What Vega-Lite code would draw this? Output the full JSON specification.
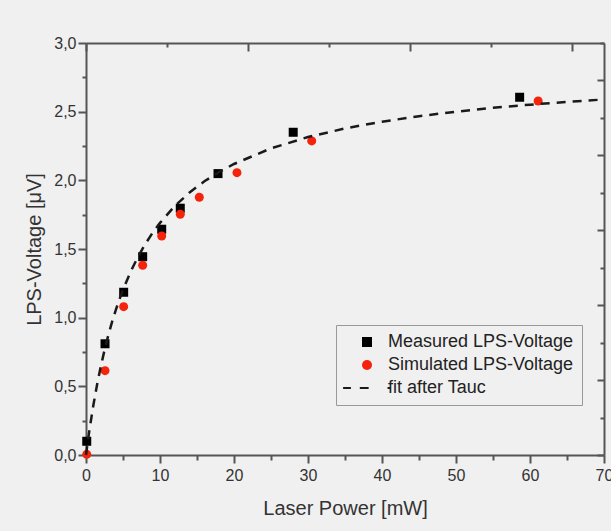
{
  "$schema": "https://vega.github.io/schema/vega-lite/v6.json",
  "width": 518,
  "height": 412,
  "autosize": {"type": "none"},
  "padding": {"left": 86, "top": 43, "right": 7, "bottom": 76},
  "background": "#f0f0f0",
  "config": {
    "view": {"stroke": null},
    "font": "Liberation Sans",
    "axis": {
      "grid": false,
      "domainColor": "#555555",
      "domainWidth": 2,
      "tickColor": "#555555",
      "tickWidth": 2,
      "labelFont": "Liberation Sans",
      "labelFontSize": 16,
      "labelColor": "#333333",
      "titleFont": "Liberation Sans",
      "titleFontSize": 20,
      "titleFontWeight": "normal",
      "titleColor": "#333333"
    }
  },
  "datasets": {
    "pts": [
      {"P": 0.1, "V": 0.10, "series": "Measured LPS-Voltage"},
      {"P": 2.57, "V": 0.81, "series": "Measured LPS-Voltage"},
      {"P": 5.09, "V": 1.185, "series": "Measured LPS-Voltage"},
      {"P": 7.66, "V": 1.444, "series": "Measured LPS-Voltage"},
      {"P": 10.23, "V": 1.644, "series": "Measured LPS-Voltage"},
      {"P": 12.74, "V": 1.797, "series": "Measured LPS-Voltage"},
      {"P": 17.84, "V": 2.049, "series": "Measured LPS-Voltage"},
      {"P": 28.0, "V": 2.35, "series": "Measured LPS-Voltage"},
      {"P": 58.6, "V": 2.605, "series": "Measured LPS-Voltage"},
      {"P": 0.1, "V": 0.005, "series": "Simulated LPS-Voltage"},
      {"P": 2.57, "V": 0.614, "series": "Simulated LPS-Voltage"},
      {"P": 5.09, "V": 1.08, "series": "Simulated LPS-Voltage"},
      {"P": 7.66, "V": 1.382, "series": "Simulated LPS-Voltage"},
      {"P": 10.23, "V": 1.595, "series": "Simulated LPS-Voltage"},
      {"P": 12.74, "V": 1.753, "series": "Simulated LPS-Voltage"},
      {"P": 15.31, "V": 1.877, "series": "Simulated LPS-Voltage"},
      {"P": 20.4, "V": 2.056, "series": "Simulated LPS-Voltage"},
      {"P": 30.5, "V": 2.287, "series": "Simulated LPS-Voltage"},
      {"P": 61.1, "V": 2.578, "series": "Simulated LPS-Voltage"}
    ],
    "fit": [
      {"P": 0, "V": 0},
      {"P": 0.25, "V": 0.101},
      {"P": 0.5, "V": 0.195},
      {"P": 1, "V": 0.364},
      {"P": 1.5, "V": 0.513},
      {"P": 2, "V": 0.645},
      {"P": 2.5, "V": 0.763},
      {"P": 3, "V": 0.869},
      {"P": 3.5, "V": 0.965},
      {"P": 4, "V": 1.052},
      {"P": 4.5, "V": 1.131},
      {"P": 5, "V": 1.203},
      {"P": 6, "V": 1.331},
      {"P": 7, "V": 1.441},
      {"P": 8, "V": 1.535},
      {"P": 9, "V": 1.618},
      {"P": 10, "V": 1.690},
      {"P": 12, "V": 1.813},
      {"P": 14, "V": 1.912},
      {"P": 16, "V": 1.993},
      {"P": 18, "V": 2.061},
      {"P": 20, "V": 2.119},
      {"P": 25, "V": 2.233},
      {"P": 30, "V": 2.315},
      {"P": 35, "V": 2.378},
      {"P": 40, "V": 2.427},
      {"P": 45, "V": 2.467},
      {"P": 50, "V": 2.500},
      {"P": 55, "V": 2.528},
      {"P": 60, "V": 2.551},
      {"P": 65, "V": 2.571},
      {"P": 70, "V": 2.589}
    ],
    "frame": [
      {"P2": 0, "V2": 0}
    ]
  },
  "resolve": {
    "scale": {"x": "independent", "y": "independent"},
    "axis": {"x": "independent", "y": "independent"}
  },
  "layer": [
    {
      "data": {"name": "pts"},
      "mark": {"type": "point", "filled": true, "opacity": 1, "strokeWidth": 0, "size": 81},
      "encoding": {
        "x": {
          "field": "P", "type": "quantitative",
          "scale": {"domain": [0, 70], "nice": false, "zero": false},
          "axis": {
            "orient": "bottom",
            "title": "Laser Power [mW]",
            "values": [0, 5, 10, 15, 20, 25, 30, 35, 40, 45, 50, 55, 60, 65, 70],
            "labelExpr": "datum.value % 10 === 0 ? datum.label : ''",
            "tickSize": {"condition": {"test": "datum.value % 10 === 0", "value": 8}, "value": 5},
            "labelPadding": 4,
            "titlePadding": 15,
            "labelFlush": false,
            "labelOverlap": false
          }
        },
        "y": {
          "field": "V", "type": "quantitative",
          "scale": {"domain": [0, 3], "nice": false, "zero": false},
          "axis": {
            "orient": "left",
            "title": "LPS-Voltage [μV]",
            "values": [0, 0.25, 0.5, 0.75, 1, 1.25, 1.5, 1.75, 2, 2.25, 2.5, 2.75, 3],
            "labelExpr": "datum.value % 0.5 === 0 ? replace(format(datum.value, '.1f'), '.', ',') : ''",
            "tickSize": {"condition": {"test": "datum.value % 0.5 === 0", "value": 8}, "value": 4},
            "labelPadding": 2,
            "titlePadding": 9,
            "labelFlush": false,
            "labelOverlap": false
          }
        },
        "color": {
          "field": "series", "type": "nominal",
          "scale": {
            "domain": ["Measured LPS-Voltage", "Simulated LPS-Voltage", "fit after Tauc"],
            "range": ["#000000", "#f5220c", "#1a1a1a"]
          },
          "legend": {
            "title": null,
            "orient": "none",
            "legendX": 250,
            "legendY": 282,
            "padding": 8,
            "rowPadding": 5,
            "labelFont": "Liberation Sans",
            "labelFontSize": 18,
            "labelColor": "#222222",
            "labelLimit": 0,
            "symbolOffset": 14,
            "labelOffset": 12,
            "strokeColor": "#999999",
            "fillColor": "#f0f0f0",
            "symbolOpacity": 1,
            "symbolStrokeWidth": 0
          }
        },
        "shape": {
          "field": "series", "type": "nominal",
          "scale": {
            "domain": ["Measured LPS-Voltage", "Simulated LPS-Voltage", "fit after Tauc"],
            "range": ["square", "circle", "M-4.78,-0.22H-3.22V0.22H-4.78Z M-1.44,-0.22H0.33V0.22H-1.44Z M4.11,-0.22H4.78V0.22H4.11Z"]
          }
        }
      }
    },
    {
      "data": {"name": "fit"},
      "mark": {"type": "line", "color": "#1a1a1a", "strokeWidth": 2.5, "strokeDash": [9, 7]},
      "encoding": {
        "x": {"field": "P", "type": "quantitative", "scale": {"domain": [0, 70], "nice": false, "zero": false}, "axis": null},
        "y": {"field": "V", "type": "quantitative", "scale": {"domain": [0, 3], "nice": false, "zero": false}, "axis": null}
      }
    },
    {
      "data": {"name": "frame"},
      "mark": {"type": "point", "opacity": 0},
      "encoding": {
        "x": {
          "field": "P2", "type": "quantitative",
          "scale": {"domain": [0, 64], "nice": false, "zero": false},
          "axis": {
            "orient": "top",
            "title": null,
            "labels": false,
            "values": [0, 10, 20, 30, 40, 50, 60],
            "tickSize": {"condition": {"test": "datum.value % 20 === 0", "value": -8}, "value": -4}
          }
        },
        "y": {
          "field": "V2", "type": "quantitative",
          "scale": {"domain": [0, 2.75], "nice": false, "zero": false},
          "axis": {
            "orient": "right",
            "title": null,
            "labels": false,
            "values": [0, 0.25, 0.5, 0.75, 1, 1.25, 1.5, 1.75, 2, 2.25, 2.5, 2.75],
            "tickSize": {"condition": {"test": "datum.value % 0.5 === 0", "value": -7}, "value": -4}
          }
        }
      }
    }
  ]
}
